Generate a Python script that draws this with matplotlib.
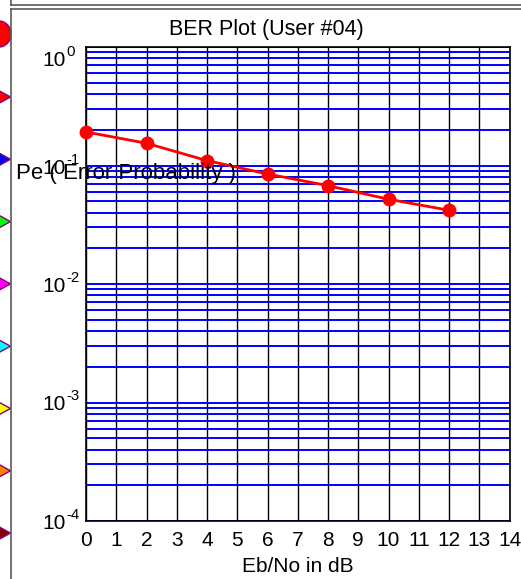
#!/usr/bin/env python3
"""
Purpose: BER plot for a single user, drawn like the old GUI screenshot
"""

import numpy as np
import matplotlib
matplotlib.use('Agg')
from matplotlib import pyplot as plt
from matplotlib import transforms
from matplotlib.patches import Polygon, Ellipse

# data
ebno_db = [0, 2, 4, 6, 8, 10, 12]
ber = [0.192, 0.154, 0.110, 0.0848, 0.0676, 0.0519, 0.0419]
x_ticks = list(range(0, 15))
y_ticks = [1e-4, 1e-3, 1e-2, 1e-1, 1e0]

title_str = 'BER Plot (User #04)'
xlabel_str = 'Eb/No in dB'
ylabel_str = 'Pe ( Error Probability )'

# colours of the clipped user markers along the left edge of the window
user_colors = ['#ff0000', '#0000ff', '#00ff00', '#ff00ff', '#00ffff',
               '#ffff00', '#ff8000', '#800000']

W, H = 521, 579


def draw_window_frame(a_fig):
    """ Draw the bits of the surrounding GUI window (frame, markers)
    Parameters:
        a_fig (Figure): figure to draw on
    Returns:
        None
    """
    bg = a_fig.add_axes([0, 0, 1, 1], zorder=-5)
    bg.set_xlim(0, W)
    bg.set_ylim(H, 0)
    bg.axis('off')
    frame_col = '#5a5a5a'
    bg.plot([11, 11], [0, 4.5], color=frame_col, lw=1.2)
    bg.plot([11, W], [4.5, 4.5], color=frame_col, lw=1.2)
    bg.plot([11, W], [8.5, 8.5], color=frame_col, lw=1.2)
    bg.plot([11, 11], [8.5, H], color=frame_col, lw=1.2)
    # big red blob at the top
    bg.add_patch(Ellipse((-1, 34), 24, 26, facecolor='#ff0000',
                         edgecolor='#800080', lw=1))
    # triangles, one per user
    for k, col in enumerate(user_colors):
        cy = 97 + 62.3 * k
        bg.add_patch(Polygon([(-5, cy - 8.5), (10.5, cy), (-5, cy + 8.5)],
                             closed=True, facecolor=col,
                             edgecolor='#800080', lw=1))
    # endfor #
# enddef draw_window_frame() #


def draw_log_labels(a_fig, a_ax, a_ticks, a_fs):
    """ MATLAB style 10^n labels: big "10" with a small raised exponent
    Parameters:
        a_fig (Figure): figure
        a_ax (Axes): axes to label
        a_ticks (list): tick values (decades)
        a_fs (float): font size of the "10"
    Returns:
        None
    """
    base = a_ax.get_yaxis_transform()
    for val in a_ticks:
        expo = int(round(np.log10(val)))
        # the top label gets pushed down into the window
        shift = -11 if val == max(a_ticks) else 0
        t_ten = transforms.offset_copy(base, fig=a_fig, x=-20, y=shift - 8,
                                       units='dots')
        t_exp = transforms.offset_copy(base, fig=a_fig, x=-20, y=shift + 2,
                                       units='dots')
        a_ax.text(0, val, '10', transform=t_ten, ha='right', va='baseline',
                  fontsize=a_fs, clip_on=False)
        a_ax.text(0, val, '%d' % expo, transform=t_exp, ha='left',
                  va='baseline', fontsize=a_fs * 0.72, clip_on=False)
    # endfor #
# enddef draw_log_labels() #


def main():
    plt.rcParams['font.family'] = ['Liberation Sans', 'DejaVu Sans']
    fs = 15

    fig = plt.figure(figsize=(W / 100, H / 100), dpi=100)
    draw_window_frame(fig)

    left, right, top, bottom = 86, 509.5, 47, 521
    ax = fig.add_axes([left / W, 1 - bottom / H, (right - left) / W,
                       (bottom - top) / H])
    ax.set_yscale('log')
    ax.set_xlim(0, 14)
    ax.set_ylim(1e-4, 1)

    # grid: black verticals, blue horizontals on every decade sub-tick
    ax.set_xticks(x_ticks)
    ax.set_yticks(y_ticks)
    ax.set_yticks([m * 10.0 ** e for e in range(-4, 0) for m in range(2, 10)],
                  minor=True)
    ax.set_yticklabels([])
    ax.grid(True, which='major', axis='x', color='black', lw=1.0)
    ax.grid(True, which='both', axis='y', color='#0000ff', lw=1.4)
    ax.tick_params(which='both', length=0)
    ax.tick_params(axis='x', pad=7, labelsize=fs)
    for sp in ax.spines.values():
        sp.set_color('black')
        sp.set_linewidth(1.2)
    # endfor #
    draw_log_labels(fig, ax, y_ticks, fs)

    ax.plot(ebno_db, ber, '-o', color='#ff0000', lw=2, markersize=9,
            zorder=5, clip_on=False)

    ax.set_xlabel(xlabel_str, fontsize=fs, labelpad=5)
    fig.text(266 / W, 1 - 30 / H, title_str, fontsize=15.5, ha='center',
             va='center')
    fig.text(16 / W, 1 - 173 / H, ylabel_str, fontsize=16, ha='left',
             va='center')

    plt.savefig('out.png', dpi=100)
# enddef main() #


if __name__ == "__main__":
    main()
# endif #
